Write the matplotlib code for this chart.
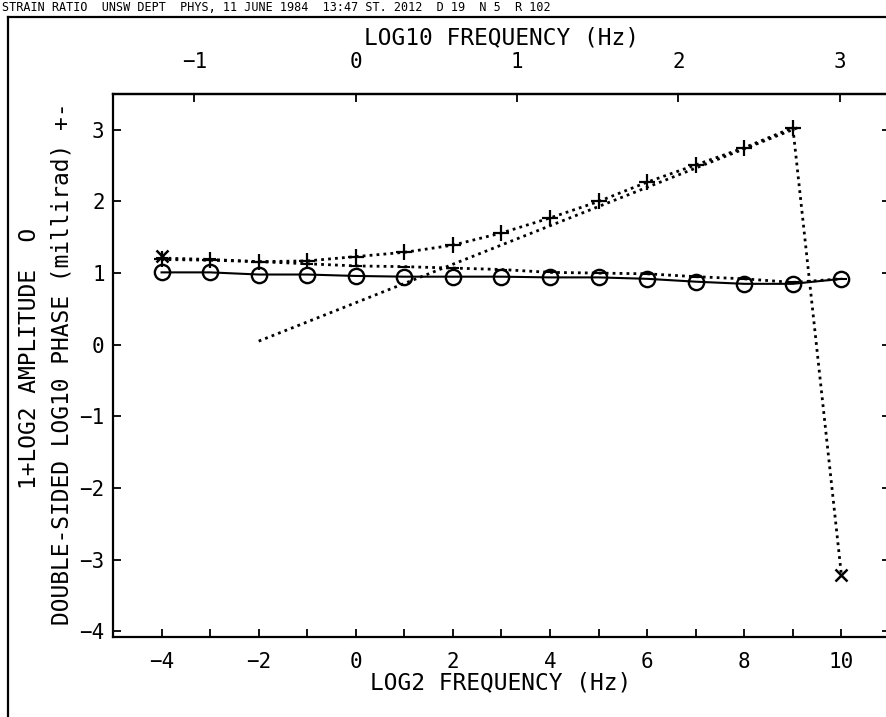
import numpy as np
import matplotlib
matplotlib.use('Agg')
import matplotlib.pyplot as plt
from matplotlib.lines import Line2D

# valeurs (axe du bas = log2 frequence)
log2_freq = np.arange(-4, 11)
amplitude = [1.01, 1.01, 0.98, 0.98, 0.96, 0.95, 0.95, 0.95, 0.94, 0.94, 0.92, 0.88, 0.85, 0.85, 0.92]

# phase "+" : monte jusqu'a 9 puis chute a 10
phase_plus_x = np.arange(-4, 11)
phase_plus = [1.19, 1.18, 1.16, 1.17, 1.23, 1.29, 1.39, 1.56, 1.77, 2.0, 2.27, 2.51, 2.75, 3.03, -3.22]

# phase "-" (pointilles presque plat)
phase_moins = [1.21, 1.19, 1.16, 1.13, 1.1, 1.09, 1.07, 1.05, 1.01, 1.0, 0.99, 0.95, 0.92, 0.87, 0.92]

# droite de reference
droite_x = [-2, 9.1]
droite_y = [0.05, 3.03]

# croix
croix_x = [-4, 10]
croix_y = [1.24, -3.22]

top_ticks = [-1, 0, 1, 2, 3]
header = "STRAIN RATIO  UNSW DEPT  PHYS, 11 JUNE 1984  13:47 ST. 2012  D 19  N 5  R 102"

plt.rcParams['font.family'] = ['DejaVu Sans Mono', 'DejaVu Sans']
plt.rcParams['font.size'] = 15

W, H = 886, 717
fig = plt.figure(figsize=(W / 100, H / 100), dpi=100)
fig.patch.set_facecolor('white')

# cadre exterieur
fig.add_artist(Line2D([8 / W, 8 / W], [0, 1 - 17 / H], color='black', lw=1.6))
fig.add_artist(Line2D([8 / W, 1], [1 - 17 / H, 1 - 17 / H], color='black', lw=1.6))
fig.text(2 / W, 1 - 1 / H, header, ha='left', va='top', fontsize=8.5, color='black')

ax = fig.add_axes([113 / W, 1 - 637 / H, (890 - 113) / W, (637 - 94) / H])
ax.set_xlim(-5, 11)
ax.set_ylim(-4.08, 3.5)

pointille = (0, (1, 1.5))

ax.plot(log2_freq, amplitude, color='black', lw=1.5, marker='o', ms=11,
        mfc='none', mec='black', mew=1.7)
ax.plot(log2_freq, phase_moins, color='black', lw=2, ls=pointille,
        marker='_', ms=8, mew=1.5)
ax.plot(phase_plus_x, phase_plus, color='black', lw=2, ls=pointille,
        marker='+', ms=12, mew=1.6, markevery=list(range(len(phase_plus) - 1)))
ax.plot(droite_x, droite_y, color='black', lw=2, ls=pointille)
ax.plot(croix_x, croix_y, ls='none', marker='x', ms=9, mew=1.8, color='black')

for s in ax.spines.values():
    s.set_linewidth(1.6)

ax.set_xticks(np.arange(-4, 11, 2))
ax.set_xticks(np.arange(-3, 10, 2), minor=True)
ax.set_yticks(np.arange(-4, 4))
ax.tick_params(axis='both', which='both', direction='in', length=6, width=1.3,
               right=True, top=False)
ax.tick_params(axis='x', pad=11)
ax.tick_params(axis='y', pad=6)

secax = ax.secondary_xaxis('top', functions=(lambda x: x * np.log10(2),
                                             lambda x: x / np.log10(2)))
secax.set_xticks(top_ticks)
secax.tick_params(direction='in', length=6, width=1.3, pad=16)
secax.spines['top'].set_linewidth(1.6)

fig.text(501 / W, 1 - 683 / H, "LOG2 FREQUENCY (Hz)", ha='center', va='center', fontsize=16.5)
fig.text(502 / W, 1 - 38 / H, "LOG10 FREQUENCY (Hz)", ha='center', va='center', fontsize=16.5)
fig.text(30 / W, 1 - 358 / H, "1+LOG2 AMPLITUDE  O", rotation=90, ha='center', va='center',
         fontsize=16.5)
fig.text(62 / W, 1 - 364 / H, "DOUBLE-SIDED LOG10 PHASE (millirad) +-", rotation=90,
         ha='center', va='center', fontsize=16.5)

fig.savefig('out.png', dpi=100)
